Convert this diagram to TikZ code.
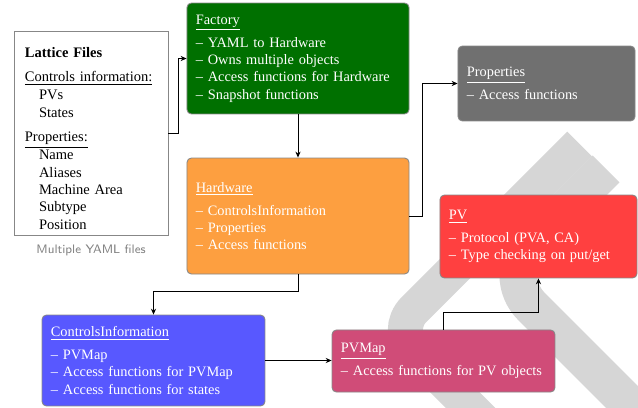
\documentclass[tikz,border=0pt]{standalone}
\usepackage{fontspec}
\setmainfont{Liberation Serif}
\usetikzlibrary{arrows.meta,positioning}

\definecolor{factorygreen}{RGB}{0,112,0}
\definecolor{hardwareorange}{RGB}{253,159,64}
\definecolor{propsgray}{RGB}{112,112,112}
\definecolor{pvred}{RGB}{255,64,64}
\definecolor{controlsblue}{RGB}{88,88,255}
\definecolor{pvmappink}{RGB}{208,76,120}
\definecolor{boxborder}{RGB}{135,135,135}
\definecolor{wmark}{RGB}{214,214,214}

\tikzset{
  box/.style={draw=boxborder, line width=0.6pt, rounded corners=3pt, text=white,
    align=left, inner xsep=6pt, font=\fontsize{9.7}{11.7}\selectfont},
  filebox/.style={draw=boxborder, line width=0.6pt, fill=white, align=left,
    inner xsep=7.4pt, font=\fontsize{9.8}{11.7}\selectfont},
  arr/.style={-{Stealth[length=4pt,width=3.5pt]}, line width=0.6pt},
}
\newcommand{\ind}{\hspace*{9.5pt}}

\begin{document}
\begin{tikzpicture}[x=0.675pt,y=-0.675pt]
   \useasboundingbox (0,0) rectangle (638,407);

   % watermark
   \draw[wmark, line width=23.6pt, rounded corners=20pt]
      (579.7,144) -- (393,330.5) -- (500,437.3);
   \draw[wmark, line width=25.6pt, rounded corners=30pt]
      (606,169) -- (500,275) -- (640,415);

   \node[filebox, minimum width=104pt, minimum height=137.7pt, text width=89.2pt] (lattice) at (91,133)
      {\textbf{Lattice Files}\rule{0pt}{14pt}\\[4.5pt]
       \underline{Controls information:}\\[0.5pt]
       \ind PVs\\[0.5pt]
       \ind States\\[4.5pt]
       \underline{Properties:}\\[0.5pt]
       \ind Name\\
       \ind Aliases\\
       \ind Machine Area\\
       \ind Subtype\\
       \ind Position};
   \node[below=2.5pt of lattice, text=gray, font=\sffamily\fontsize{8.3}{10}\selectfont] (yaml) {Multiple YAML files};

   \node[box, fill=factorygreen, minimum width=149.9pt, minimum height=74.9pt, text width=137.9pt] (factory) at (298,58.5)
      {\underline{Factory}\\[3.8pt]
       -- YAML to Hardware\\
       -- Owns multiple objects\\
       -- Access functions for Hardware\\
       -- Snapshot functions};

   \node[box, fill=hardwareorange, minimum width=149.9pt, minimum height=78.3pt, text width=137.9pt] (hardware) at (298,216)
      {\underline{Hardware}\\[3.8pt]
       -- ControlsInformation\\
       -- Properties\\
       -- Access functions};

   \node[box, fill=propsgray, minimum width=119.5pt, minimum height=50.6pt, text width=107.5pt] (props) at (546.5,83.5)
      {\underline{Properties}\\[3.8pt]
       -- Access functions};

   \node[box, fill=pvred, minimum width=133pt, minimum height=56pt, text width=121pt] (pv) at (538.5,236.5)
      {\underline{PV}\\[3.8pt]
       -- Protocol (PVA, CA)\\
       -- Type checking on put/get};

   \node[box, fill=controlsblue, minimum width=150.5pt, minimum height=61.4pt, text width=138.5pt] (controls) at (153.5,360.5)
      {\underline{ControlsInformation}\\[3.8pt]
       -- PVMap\\
       -- Access functions for PVMap\\
       -- Access functions for states};

   \node[box, fill=pvmappink, minimum width=150.5pt, minimum height=41.9pt, text width=138.5pt] (pvmap) at (443.5,361)
      {\underline{PVMap}\\[3.8pt]
       \mbox{-- Access functions for PV objects}};

   \draw[arr] (lattice.east) -- ++(10,0) |- (factory.west);
   \draw[arr] (factory.south) -- (hardware.north);
   \draw[arr] (hardware.east) -- ++(13,0) |- (props.west);
   \draw[arr] (hardware.south) -- ++(0,17) -| (controls.north);
   \draw[arr] (controls.east) -- (controls.east -| pvmap.west);
   \draw[arr] (pvmap.north) -- ++(0,-17) -| (pv.south);

\end{tikzpicture}
\end{document}
